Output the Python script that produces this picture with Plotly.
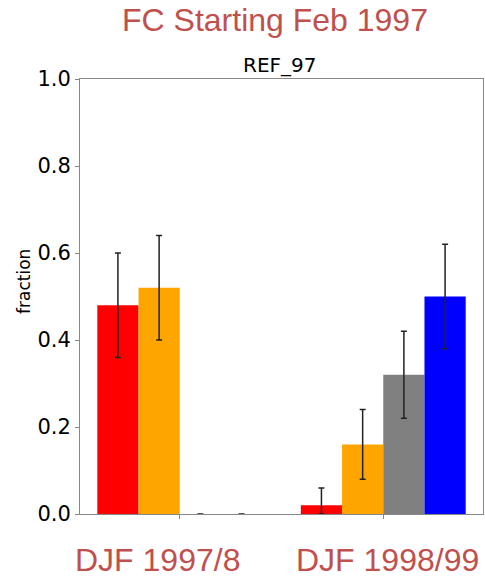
import plotly.graph_objects as go

groups = ["DJF 1997/8", "DJF 1998/99"]
series = ["red", "orange", "gray", "blue"]
colors = ["#FF0000", "#FFA500", "#808080", "#0000FF"]
values = {
    "red": [0.48, 0.02],
    "orange": [0.52, 0.16],
    "gray": [0.0, 0.32],
    "blue": [0.0, 0.50],
}
err_plus = {
    "red": [0.12, 0.04],
    "orange": [0.12, 0.08],
    "gray": [0.0, 0.10],
    "blue": [0.0, 0.12],
}
err_minus = {
    "red": [0.12, 0.02],
    "orange": [0.12, 0.08],
    "gray": [0.0, 0.10],
    "blue": [0.0, 0.12],
}
yticks = [0.0, 0.2, 0.4, 0.6, 0.8, 1.0]

fig = go.Figure()
xpos = [0, 1]
for s, c in zip(series, colors):
    fig.add_trace(go.Bar(
        x=xpos, y=values[s], name=s, marker=dict(color=c, line=dict(width=0)),
        error_y=dict(type="data", symmetric=False, array=err_plus[s], arrayminus=err_minus[s],
                     color="#222222", thickness=1.5, width=3),
    ))

fig.update_layout(
    width=485, height=582,
    margin=dict(l=80, r=2, t=79, b=68),
    barmode="group", bargap=0.19, bargroupgap=0,
    plot_bgcolor="white", paper_bgcolor="white",
    showlegend=False,
    font=dict(family="DejaVu Sans", color="black"),
)
fig.update_xaxes(range=[-0.49, 1.49], tickvals=xpos, ticktext=["", ""], ticks="outside",
                 ticklen=4, tickcolor="#888888", showline=True, linecolor="#888888",
                 mirror=True, showgrid=False, zeroline=False)
fig.update_yaxes(range=[0, 1.0], tickvals=yticks, ticktext=[f"{v:.1f}" for v in yticks],
                 ticks="outside", ticklen=4, tickcolor="#888888", showline=True,
                 linecolor="#888888", mirror=True, showgrid=False, zeroline=False,
                 tickfont=dict(size=21, family="DejaVu Sans", color="black"))

fig.add_annotation(text="fraction", xref="paper", yref="paper", x=(24 - 80) / 403,
                   xanchor="center", y=(514 - 282) / 435, yanchor="middle", textangle=-90,
                   showarrow=False, font=dict(size=17, family="DejaVu Sans", color="black"))
fig.add_annotation(text="FC Starting Feb 1997", xref="paper", yref="paper",
                   x=(275 - 80) / 403, xanchor="center", y=1.0, yshift=79, showarrow=False,
                   font=dict(size=32, family="Liberation Sans", color="#C0504D"))
fig.add_annotation(text="REF_97", xref="paper", yref="paper", x=(280 - 80) / 403,
                   xanchor="center", y=1.0, yshift=28, showarrow=False,
                   font=dict(size=20, family="DejaVu Sans", color="black"))
fig.add_annotation(text=groups[0], xref="paper", yref="paper", x=(157 - 80) / 403,
                   xanchor="center", y=0, yshift=-66, showarrow=False,
                   font=dict(size=32, family="Liberation Sans", color="#C0504D"))
fig.add_annotation(text=groups[1], xref="paper", yref="paper", x=(387 - 80) / 403,
                   xanchor="center", y=0, yshift=-66, showarrow=False,
                   font=dict(size=32, family="Liberation Sans", color="#C0504D"))

fig.write_html("out.html")
